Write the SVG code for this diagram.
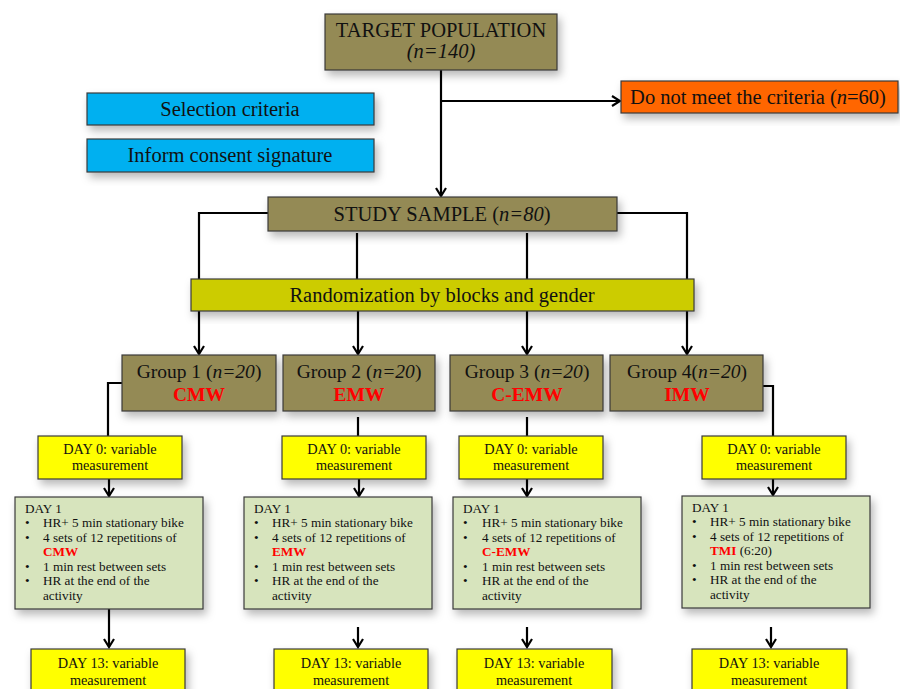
<svg xmlns="http://www.w3.org/2000/svg" width="900" height="689" viewBox="0 0 900 689">
<style>
text{font-family:"Liberation Serif","Times New Roman",serif;fill:#111}
.box{stroke:#3a3a3a;stroke-width:1.2;filter:url(#sh)}
.olive{fill:#948A54}
.blue{fill:#00B0F0}
.orange{fill:#FF6600}
.lime{fill:#CCCC00}
.yel{fill:#FFFF00}
.grn{fill:#D7E4BD}
.t18{font-size:20.5px}
.t17{font-size:19.5px}
.t13{font-size:14.3px}
.t12{font-size:13.2px}
.red{fill:#FF0000;font-weight:bold}
.c{text-anchor:middle}
.conn{stroke:#000;stroke-width:2.2;fill:none}
.arr{marker-end:url(#ah)}
</style>
<defs>
<filter id="sh" x="-10%" y="-20%" width="130%" height="160%">
<feDropShadow dx="3" dy="5" stdDeviation="4" flood-color="#000" flood-opacity="0.28"/>
</filter>
<marker id="ah" viewBox="0 0 12 12" refX="10" refY="6" markerWidth="12" markerHeight="12" markerUnits="userSpaceOnUse" orient="auto">
<path d="M2,1 L10,6 L2,11" fill="none" stroke="#000" stroke-width="2.2"/>
</marker>
</defs>

<g id="connectors">
<path class="conn arr" d="M441,70 V196"/>
<path class="conn arr" d="M441,101 H620"/>
<path class="conn" d="M268,213 H199 V279"/>
<path class="conn" d="M357,233 V279"/>
<path class="conn" d="M527,233 V279"/>
<path class="conn" d="M617,213 H687 V279"/>
<path class="conn arr" d="M199,311 V354"/>
<path class="conn arr" d="M358,311 V354"/>
<path class="conn arr" d="M527,311 V354"/>
<path class="conn arr" d="M687,311 V354"/>
<path class="conn" d="M122,383 H108 V436"/>
<path class="conn" d="M358,417 V436"/>
<path class="conn" d="M527,417 V436"/>
<path class="conn" d="M763,386 H773 V436"/>
<path class="conn arr" d="M109,479 V496"/>
<path class="conn arr" d="M359,479 V496"/>
<path class="conn arr" d="M527,479 V496"/>
<path class="conn arr" d="M773,479 V495"/>
<path class="conn arr" d="M109,609 V647"/>
<path class="conn arr" d="M358,627 V647"/>
<path class="conn arr" d="M527,627 V647"/>
<path class="conn arr" d="M771,627 V647"/>
</g>

<g id="target">
<rect class="box olive" x="325" y="14" width="232" height="56"/>
<text class="t18 c" x="441" y="37">TARGET POPULATION</text>
<text class="t18 c" x="441" y="58" font-style="italic">(n=140)</text>
</g>

<g id="selection">
<rect class="box blue" x="87" y="93" width="287" height="32"/>
<text class="t18 c" x="230" y="116">Selection criteria</text>
</g>
<g id="consent">
<rect class="box blue" x="87" y="139" width="287" height="33"/>
<text class="t18 c" x="230" y="162">Inform consent signature</text>
</g>

<g id="exclude">
<rect class="box orange" x="621" y="81" width="277" height="32"/>
<text class="t18 c" x="758" y="104">Do not meet the criteria (<tspan font-style="italic">n</tspan>=60)</text>
</g>

<g id="study">
<rect class="box olive" x="268" y="197" width="349" height="34"/>
<text class="t18 c" x="442" y="221">STUDY SAMPLE (<tspan font-style="italic">n=80</tspan>)</text>
</g>

<g id="randomization">
<rect class="box lime" x="191" y="279" width="503" height="32"/>
<text class="t18 c" x="442" y="302" font-size="21">Randomization by blocks and gender</text>
</g>

<g id="group1">
<rect class="box olive" x="122" y="355" width="154" height="56"/>
<text class="t17 c" x="199" y="378">Group 1 (<tspan font-style="italic">n=20</tspan>)</text>
<text class="t17 c red" x="199" y="401">CMW</text>
</g>
<g id="group2">
<rect class="box olive" x="283" y="355" width="152" height="56"/>
<text class="t17 c" x="359" y="378">Group 2 (<tspan font-style="italic">n=20</tspan>)</text>
<text class="t17 c red" x="359" y="401">EMW</text>
</g>
<g id="group3">
<rect class="box olive" x="450" y="355" width="153" height="56"/>
<text class="t17 c" x="527" y="378">Group 3 (<tspan font-style="italic">n=20</tspan>)</text>
<text class="t17 c red" x="527" y="401">C-EMW</text>
</g>
<g id="group4">
<rect class="box olive" x="610" y="355" width="153" height="56"/>
<text class="t17 c" x="687" y="378">Group 4(<tspan font-style="italic">n=20</tspan>)</text>
<text class="t17 c red" x="687" y="401">IMW</text>
</g>

<g id="day0-1">
<rect class="box yel" x="38" y="436" width="144" height="43"/>
<text class="t13 c" x="110" y="454">DAY 0: variable</text>
<text class="t13 c" x="110" y="470">measurement</text>
</g>
<g id="day0-2">
<rect class="box yel" x="282" y="436" width="144" height="43"/>
<text class="t13 c" x="354" y="454">DAY 0: variable</text>
<text class="t13 c" x="354" y="470">measurement</text>
</g>
<g id="day0-3">
<rect class="box yel" x="459" y="436" width="144" height="43"/>
<text class="t13 c" x="531" y="454">DAY 0: variable</text>
<text class="t13 c" x="531" y="470">measurement</text>
</g>
<g id="day0-4">
<rect class="box yel" x="702" y="436" width="144" height="43"/>
<text class="t13 c" x="774" y="454">DAY 0: variable</text>
<text class="t13 c" x="774" y="470">measurement</text>
</g>

<g id="day1-1">
<rect class="box grn" x="15" y="497" width="188" height="112"/>
<text class="t12" x="25" y="513">DAY 1</text>
<text class="t12" x="25" y="527">•</text><text class="t12" x="43" y="527">HR+ 5 min stationary bike</text>
<text class="t12" x="25" y="542">•</text><text class="t12" x="43" y="542">4 sets of 12 repetitions of</text>
<text class="t12 red" x="43" y="556">CMW</text>
<text class="t12" x="25" y="571">•</text><text class="t12" x="43" y="571">1 min rest between sets</text>
<text class="t12" x="25" y="585">•</text><text class="t12" x="43" y="585">HR at the end of the</text>
<text class="t12" x="43" y="600">activity</text>
</g>
<g id="day1-2">
<rect class="box grn" x="244" y="497" width="188" height="112"/>
<text class="t12" x="254" y="513">DAY 1</text>
<text class="t12" x="254" y="527">•</text><text class="t12" x="272" y="527">HR+ 5 min stationary bike</text>
<text class="t12" x="254" y="542">•</text><text class="t12" x="272" y="542">4 sets of 12 repetitions of</text>
<text class="t12 red" x="272" y="556">EMW</text>
<text class="t12" x="254" y="571">•</text><text class="t12" x="272" y="571">1 min rest between sets</text>
<text class="t12" x="254" y="585">•</text><text class="t12" x="272" y="585">HR at the end of the</text>
<text class="t12" x="272" y="600">activity</text>
</g>
<g id="day1-3">
<rect class="box grn" x="453" y="497" width="188" height="112"/>
<text class="t12" x="463" y="513">DAY 1</text>
<text class="t12" x="463" y="527">•</text><text class="t12" x="482" y="527">HR+ 5 min stationary bike</text>
<text class="t12" x="463" y="542">•</text><text class="t12" x="482" y="542">4 sets of 12 repetitions of</text>
<text class="t12 red" x="482" y="556">C-EMW</text>
<text class="t12" x="463" y="571">•</text><text class="t12" x="482" y="571">1 min rest between sets</text>
<text class="t12" x="463" y="585">•</text><text class="t12" x="482" y="585">HR at the end of the</text>
<text class="t12" x="482" y="600">activity</text>
</g>
<g id="day1-4">
<rect class="box grn" x="682" y="496" width="188" height="112"/>
<text class="t12" x="692" y="512">DAY 1</text>
<text class="t12" x="692" y="526">•</text><text class="t12" x="710" y="526">HR+ 5 min stationary bike</text>
<text class="t12" x="692" y="541">•</text><text class="t12" x="710" y="541">4 sets of 12 repetitions of</text>
<text class="t12" x="710" y="555"><tspan class="red">TMI</tspan> (6:20)</text>
<text class="t12" x="692" y="570">•</text><text class="t12" x="710" y="570">1 min rest between sets</text>
<text class="t12" x="692" y="584">•</text><text class="t12" x="710" y="584">HR at the end of the</text>
<text class="t12" x="710" y="599">activity</text>
</g>

<g id="day13-1">
<rect class="box yel" x="31" y="649" width="154" height="50"/>
<text class="t13 c" x="108" y="668">DAY 13: variable</text>
<text class="t13 c" x="108" y="685">measurement</text>
</g>
<g id="day13-2">
<rect class="box yel" x="274" y="649" width="154" height="50"/>
<text class="t13 c" x="351" y="668">DAY 13: variable</text>
<text class="t13 c" x="351" y="685">measurement</text>
</g>
<g id="day13-3">
<rect class="box yel" x="457" y="649" width="155" height="50"/>
<text class="t13 c" x="534" y="668">DAY 13: variable</text>
<text class="t13 c" x="534" y="685">measurement</text>
</g>
<g id="day13-4">
<rect class="box yel" x="692" y="649" width="155" height="50"/>
<text class="t13 c" x="769" y="668">DAY 13: variable</text>
<text class="t13 c" x="769" y="685">measurement</text>
</g>
</svg>
